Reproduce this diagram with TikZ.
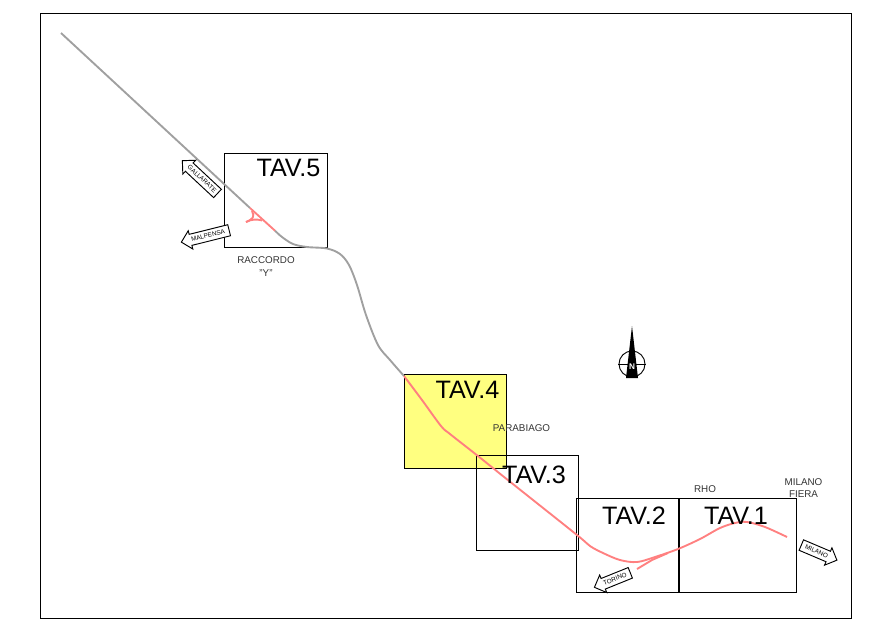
\documentclass[tikz,border=0pt]{standalone}
\usepackage{fontspec}
\setmainfont{Liberation Sans}
\usetikzlibrary{shapes.arrows}
\definecolor{trackred}{HTML}{FF8080}
\definecolor{trackgrey}{HTML}{A0A0A0}
\definecolor{lotyellow}{HTML}{FFFF80}
\tikzset{
	lot/.style={draw=black, line width=0.8pt},
	lotname/.style={font=\fontsize{21.5}{26}\selectfont, inner sep=0pt},
	place/.style={font=\fontsize{8.4}{10}\selectfont, text=black!80, inner sep=0pt},
	grey track/.style={draw=trackgrey, line width=1.6pt},
	red track/.style={draw=trackred, line width=1.6pt},
	way/.style={single arrow, draw=black, fill=white, line width=0.8pt, inner sep=1.2pt,
		text height=5pt, text depth=1.5pt, single arrow head extend=3.2pt, single arrow head indent=0pt,
		font=\fontsize{5.4}{6}\selectfont},
}
\begin{document}
\begin{tikzpicture}[x=0.03cm,y=-0.03cm]
	\useasboundingbox (0,0) rectangle (892,631);
	\draw[lot] (40.5,13) rectangle (851,618);
	
	% Lots
	\draw[lot, fill=lotyellow] (404,374) rectangle (506.5,468.7);
	\draw[lot] (224.5,153) rectangle (327,247);
	\draw[lot] (476.3,455.3) rectangle (578.7,550);
	\draw[lot] (576.7,498) rectangle (678,592);
	\draw[lot] (679,498) rectangle (796,592);
	
	% Grey stretches
	\draw[grey track] (61,33) -- (250,208);
	\draw[grey track] plot[smooth, tension=0.55] coordinates {(275,230.7) (282,237) (293,244) (307,247) (327,248.5) (340,254) (349,265) (357,285) (366,315) (378,345) (390,360) (404,376)};
	
	% Red stretches
	\draw[red track] plot[smooth, tension=0.55] coordinates {(404,376) (422,400) (441,426) (450,434) (476.7,455) (510,481.7) (577,535) (590,546) (603,553) (620,560) (637,562) (655,557) (678,549) (700,539) (720,528) (735,523) (747,522) (765,527) (787,537)};
	\draw[red track] (250,208) -- (275,230.7);
	\draw[red track] (252,211) .. controls (255,217) and (253,219) .. (246,222);
	\draw[red track] (246,222) .. controls (252,219) and (257,219) .. (262,220.5);
	\draw[red track] (637,569) -- (652,560) -- (668,553);
	
	% North sign
	\draw[line width=0.8pt] (632,364) circle (13);
	\draw[line width=0.8pt] (618,364) -- (646,364);
	\fill (632,326) -- (626,378) -- (638,378) -- cycle;
	\node[font=\fontsize{7}{8}\selectfont\bfseries, text=white, inner sep=0pt] (north) at (632,367) {N};
	
	% Lot names
	\node[lotname] (tav5) at (288.5,168) {TAV.5};
	\node[lotname] (tav4) at (467.5,390) {TAV.4};
	\node[lotname] (tav3) at (534,475) {TAV.3};
	\node[lotname] (tav2) at (634,516) {TAV.2};
	\node[lotname] (tav1) at (736,516) {TAV.1};
	
	% Places
	\node[place] (raccordo) at (266,260) {RACCORDO};
	\node[place] (ipsilon) at (266,273) {"Y"};
	\node[place] (parabiago) at (521.5,428) {PARABIAGO};
	\node[place] (rho) at (705,489) {RHO};
	\node[place] (milano) at (803.5,482) {MILANO};
	\node[place] (fiera) at (803.5,494) {FIERA};
	
	% Directions
	\node[way, rotate=-43, shape border rotate=180, minimum height=41pt] (gallarate) at (202,179) {GALLARATE};
	\node[way, rotate=14, shape border rotate=180, minimum height=42pt] (malpensa) at (208,235.5) {MALPENSA};
	\node[way, rotate=22, shape border rotate=180, minimum height=33pt] (torino) at (615,579) {TORINO};
	\node[way, rotate=-23, minimum height=33pt] (milanoway) at (816.5,551.5) {MILANO};
\end{tikzpicture}
\end{document}
